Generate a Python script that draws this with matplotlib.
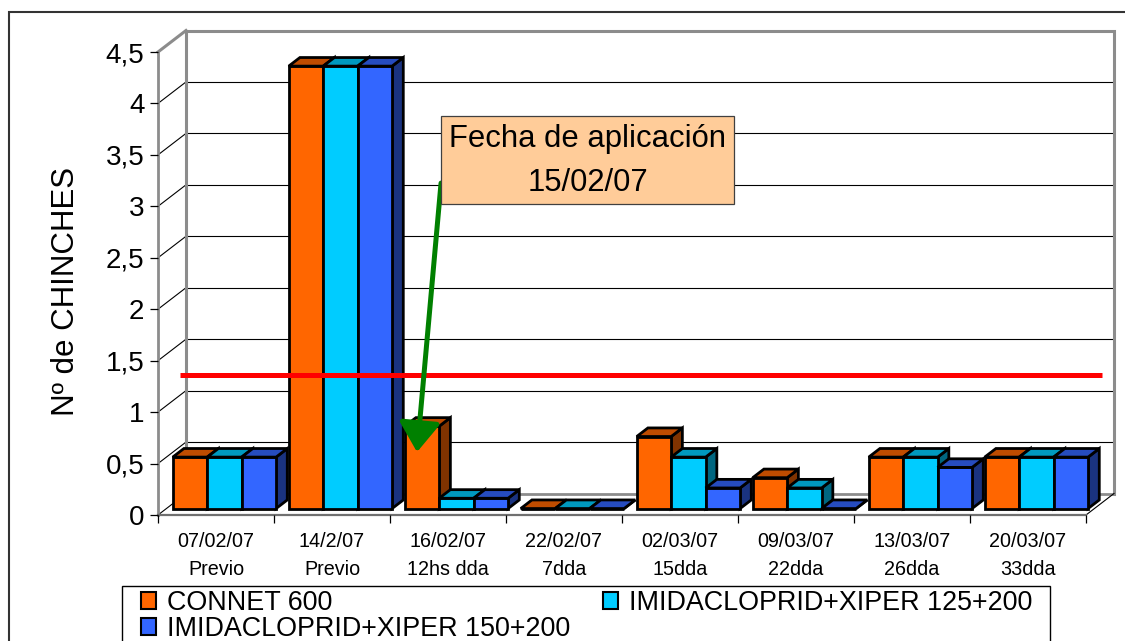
import matplotlib
matplotlib.use('Agg')
import matplotlib.pyplot as plt
from matplotlib.patches import Polygon, Rectangle, Patch

plt.rcParams['font.family'] = ['Liberation Sans', 'DejaVu Sans']

# ---------------- data ----------------
fechas = ['07/02/07', '14/2/07', '16/02/07', '22/02/07', '02/03/07', '09/03/07', '13/03/07', '20/03/07']
momentos = ['Previo', 'Previo', '12hs dda', '7dda', '15dda', '22dda', '26dda', '33dda']
series_names = ['CONNET 600', 'IMIDACLOPRID+XIPER 125+200', 'IMIDACLOPRID+XIPER 150+200']
connet_600 = [0.5, 4.3, 0.8, 0.0, 0.7, 0.3, 0.5, 0.5]
imida_125 = [0.5, 4.3, 0.1, 0.0, 0.5, 0.2, 0.5, 0.5]
imida_150 = [0.5, 4.3, 0.1, 0.0, 0.2, 0.0, 0.4, 0.5]
umbral = 1.36
yticks = [0, 0.5, 1, 1.5, 2, 2.5, 3, 3.5, 4, 4.5]
ytick_labels = ['0', '0,5', '1', '1,5', '2', '2,5', '3', '3,5', '4', '4,5']
ylabel = 'Nº de CHINCHES'
nota = 'Fecha de aplicación\n15/02/07'

series = [connet_600, imida_125, imida_150]
front_cols = ['#FF6600', '#00CCFF', '#3366FF']
top_cols = ['#BF4C00', '#0099BF', '#264CBF']
side_cols = ['#803300', '#006680', '#1A3380']

# ---------------- layout ----------------
W, H = 1125, 641
fig = plt.figure(figsize=(W / 100, H / 100), dpi=100)
ax = fig.add_axes([158 / W, (H - 515) / H, 928 / W, 463 / H])
ncat = len(fechas)
ax.set_xlim(-0.5, ncat - 0.5)
ax.set_ylim(0, 4.5)
ax.patch.set_alpha(0)

DX = 28 / 116.0
DY = 21.5 * 4.5 / 463.0
x0w, x1w = -0.5, ncat - 0.5

gray = '#8C8C8C'
# back wall gridlines + diagonal connectors
for v in yticks:
    if 0 < v < 4.5:
        ax.plot([x0w + DX, x1w + DX], [v + DY, v + DY], color='black', lw=0.8, zorder=1, clip_on=False)
    if v < 4.5:
        ax.plot([x0w, x0w + DX], [v, v + DY], color='black', lw=0.8, zorder=1, clip_on=False)
# wall border
ax.plot([x0w + DX, x0w + DX, x1w + DX, x1w + DX], [DY, 4.5 + DY, 4.5 + DY, DY],
        color=gray, lw=2.2, zorder=1.1, clip_on=False, solid_joinstyle='miter')
ax.plot([x0w + DX, x1w + DX], [DY, DY], color=gray, lw=2.0, zorder=1.1, clip_on=False)
ax.plot([x0w, x0w + DX], [4.5, 4.5 + DY], color=gray, lw=2.2, zorder=1.1, clip_on=False)
ax.plot([x1w, x1w + DX], [0, DY], color='black', lw=0.8, zorder=1.1, clip_on=False)

# ---------------- 3D bars ----------------
bw = 0.297
f0, f1 = 0.30, 0.40
z = 3
for i in range(ncat):
    for k, vals in enumerate(series):
        v = vals[i]
        bx = i - 1.5 * bw + k * bw + f0 * DX
        by = f0 * DY
        ddx, ddy = f1 * DX, f1 * DY
        kw = dict(edgecolor='black', lw=2.0, joinstyle='miter', clip_on=False)
        front = Rectangle((bx, by), bw, v, facecolor=front_cols[k], zorder=z, **kw)
        top = Polygon([(bx, by + v), (bx + bw, by + v), (bx + bw + ddx, by + v + ddy), (bx + ddx, by + v + ddy)],
                      closed=True, facecolor=top_cols[k], zorder=z, **kw)
        side = Polygon([(bx + bw, by), (bx + bw, by + v), (bx + bw + ddx, by + v + ddy), (bx + bw + ddx, by + ddy)],
                       closed=True, facecolor=side_cols[k], zorder=z, **kw)
        ax.add_patch(side)
        ax.add_patch(front)
        ax.add_patch(top)
        z += 0.01

# threshold line
ax.plot([-0.31, 7.638], [umbral, umbral], color='#FF0000', lw=3.6, zorder=10, clip_on=False,
        solid_capstyle='butt')

# ---------------- axes ----------------
for s in ['top', 'right']:
    ax.spines[s].set_visible(False)
ax.spines['left'].set_color(gray)
ax.spines['left'].set_linewidth(2.0)
ax.spines['bottom'].set_color('#707070')
ax.spines['bottom'].set_linewidth(1.6)
ax.spines['left'].set_zorder(1.2)
ax.spines['bottom'].set_zorder(1.2)

ax.set_yticks(yticks, ytick_labels, fontsize=20)
ax.tick_params(axis='y', length=5.8, width=0.9, color='black', pad=4)
ax.set_xticks(range(ncat), [f'{f}\n{m}' for f, m in zip(fechas, momentos)], fontsize=14.2, linespacing=1.55)
ax.set_xticks([i - 0.5 for i in range(ncat + 1)], minor=True)
ax.tick_params(axis='x', which='major', length=0, pad=12.5)
ax.tick_params(axis='x', which='minor', length=5.8, width=0.9, color='black')
ax.set_ylabel(ylabel, fontsize=22.5)
ax.yaxis.set_label_coords(-0.083, 0.483)

# ---------------- annotation ----------------
box = Rectangle((441 / W, 1 - 204 / H), 293 / W, 88 / H, transform=fig.transFigure,
                facecolor='#FFCC99', edgecolor='#404040', lw=0.9, zorder=20)
fig.add_artist(box)
fig.text(588 / W, 1 - 161 / H, nota, ha='center', va='center', fontsize=22.3, linespacing=1.62, zorder=21)

arrow_start = (1.940, 3.226)
arrow_tip = (1.733, 0.612)
ax.annotate('', xy=arrow_tip, xytext=arrow_start, xycoords='data', annotation_clip=False,
            arrowprops=dict(arrowstyle='-|>,head_length=1.8,head_width=1.25', color='#008000',
                            lw=3.6, shrinkA=0, shrinkB=0), zorder=30)

# ---------------- legend ----------------
handles = [Patch(facecolor=c, edgecolor='black', lw=1.5) for c in front_cols]
order = [0, 2, 1]
leg = fig.legend([handles[j] for j in order], [series_names[j] for j in order], ncol=2, mode='expand',
                 bbox_to_anchor=(141 / W, 0, (1032 - 141) / W, 1 - 590 / H), loc='upper left',
                 frameon=False, borderaxespad=0, fontsize=19.4,
                 handlelength=0.55, handleheight=0.55, handletextpad=0.4, labelspacing=0.0,
                 borderpad=0.0)
fig.add_artist(Rectangle((122 / W, -0.05), (1050 - 122) / W, 0.05 + 1 - 586 / H, transform=fig.transFigure,
                         fill=False, edgecolor='black', lw=1.0))

# outer border
fig.add_artist(Rectangle((9 / W, -0.1), 1.2, 1 - 12 / H + 0.1, transform=fig.transFigure,
                         fill=False, edgecolor='#333333', lw=1.5))

fig.savefig('out.png', dpi=100)
